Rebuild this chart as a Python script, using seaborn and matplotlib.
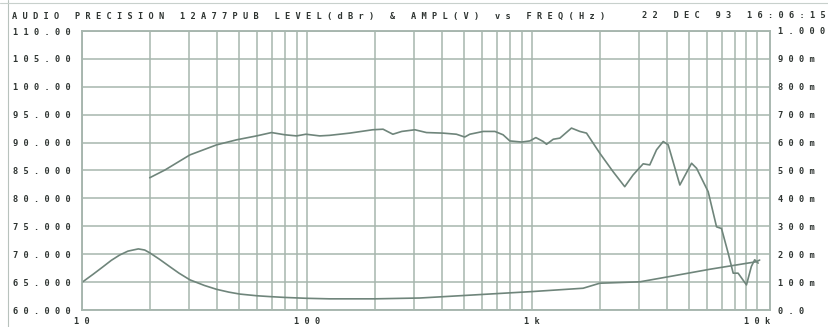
import numpy as np
import pandas as pd
import seaborn as sns
import matplotlib.pyplot as plt
from matplotlib.ticker import FixedLocator, NullFormatter, LogLocator
from matplotlib.lines import Line2D

# level (dBr) curve, left axis
level_freq = [20, 23.4, 30.2, 39.7, 48.7, 59.7, 69.6, 79.8, 89.9, 99, 114, 126, 155, 196, 218,
              241, 264, 302, 340, 402, 462, 503, 530, 608, 685, 745, 798, 900, 980, 1042, 1123,
              1162, 1245, 1332, 1500, 1635, 1750, 2005, 2296, 2588, 2818, 3126, 3344, 3583,
              3837, 4038, 4550, 5130, 5400, 6080, 6625, 6970, 7460, 7855, 8260, 9000, 9460,
              9790, 10140]
level_dbr = [83.7, 85.1, 87.8, 89.6, 90.5, 91.2, 91.8, 91.4, 91.2, 91.5, 91.2, 91.3, 91.7, 92.3, 92.4,
             91.5, 92.0, 92.3, 91.8, 91.7, 91.5, 91.0, 91.5, 92.0, 92.0, 91.4, 90.3, 90.1, 90.3, 90.9, 90.2,
             89.7, 90.6, 90.8, 92.6, 92.0, 91.7, 88.1, 84.8, 82.1, 84.2, 86.2, 86.0, 88.7,
             90.2, 89.6, 82.4, 86.3, 85.4, 81.2, 74.9, 74.6, 70.2, 66.6, 66.6, 64.5, 67.8,
             69.0, 68.4]

# amplitude (V) curve, right axis
ampl_freq = [10, 11.2, 12.4, 13.5, 14.7, 16, 17.8, 19, 20, 22, 24.6, 27, 30.2, 35, 39.7, 45,
             50.4, 60, 68.5, 80, 99, 126, 200, 318, 500, 1000, 1690, 2005, 3020, 4100, 6180,
             9960, 10300]
ampl_volts = [0.099, 0.128, 0.155, 0.178, 0.197, 0.211, 0.219, 0.215, 0.205, 0.183, 0.155, 0.132,
              0.108, 0.088, 0.074, 0.064, 0.057, 0.051, 0.048, 0.045, 0.042, 0.040,
              0.040, 0.043, 0.052, 0.066, 0.078, 0.096, 0.101, 0.120, 0.146, 0.173, 0.179]

level_ticks = [60, 65, 70, 75, 80, 85, 90, 95, 100, 105, 110]
level_labels = ["60.000", "65.000", "70.000", "75.000", "80.000", "85.000", "90.000",
                "95.000", "100.00", "105.00", "110.00"]
ampl_ticks = [0.0, 0.1, 0.2, 0.3, 0.4, 0.5, 0.6, 0.7, 0.8, 0.9, 1.0]
ampl_labels = ["0.0", "100m", "200m", "300m", "400m", "500m", "600m", "700m", "800m",
               "900m", "1.000"]
freq_ticks = [10, 100, 1000, 10000]
freq_labels = ["10", "100", "1k", "10k"]

title_left = "AUDIO PRECISION 12A77PUB LEVEL(dBr) & AMPL(V) vs FREQ(Hz)"
title_right = "22 DEC 93 16:06:15"


def spaced(s):
    return " ".join(s)


sns.set_style("white")
plt.rcParams['font.family'] = ['DejaVu Sans Mono', 'DejaVu Sans']

grid_c = '#a7b6ae'
line_c = '#6f857b'
text_c = '#2e3431'
fs = 6.2

fig = plt.figure(figsize=(8.29, 3.27), dpi=100)
ax = fig.add_axes([82 / 829, 17 / 327, 688 / 829, 279 / 327])

df_level = pd.DataFrame({'freq': level_freq, 'dbr': level_dbr})
df_ampl = pd.DataFrame({'freq': ampl_freq, 'volts': ampl_volts})

sns.lineplot(data=df_level, x='freq', y='dbr', ax=ax, color=line_c, linewidth=1.2)
ax.set_xscale('log')
ax.set_xlim(10, 11450)
ax.set_ylim(60, 110)

ax2 = ax.twinx()
sns.lineplot(data=df_ampl, x='freq', y='volts', ax=ax2, color=line_c, linewidth=1.2)
ax2.set_ylim(0, 1.0)
ax2.set_xlim(10, 11450)

# grid
ax.xaxis.set_major_locator(FixedLocator(freq_ticks))
ax.xaxis.set_minor_locator(LogLocator(base=10, subs=range(2, 10)))
ax.xaxis.set_minor_formatter(NullFormatter())
ax.set_xticklabels([spaced(s) for s in freq_labels])
ax.set_yticks(level_ticks)
ax.set_yticklabels([spaced(s) for s in level_labels])
ax2.set_yticks(ampl_ticks)
ax2.set_yticklabels([spaced(s) for s in ampl_labels])

ax.grid(True, which='both', axis='x', color=grid_c, linewidth=1.1)
ax.grid(True, which='major', axis='y', color=grid_c, linewidth=1.1)
ax2.grid(False)
ax.set_axisbelow(True)

ax.set_xlabel('')
ax.set_ylabel('')
ax2.set_xlabel('')
ax2.set_ylabel('')

ax.tick_params(axis='both', which='both', length=0, labelsize=fs, colors=text_c)
ax.tick_params(axis='y', pad=8)
ax.tick_params(axis='x', pad=5)
ax2.tick_params(axis='y', length=0, labelsize=fs, colors=text_c, pad=6)
for lab in ax.get_yticklabels():
    lab.set_fontweight('bold')
for lab in ax2.get_yticklabels():
    lab.set_fontweight('bold')
for lab in ax.get_xticklabels():
    lab.set_fontweight('bold')

for a in (ax, ax2):
    for sp in a.spines.values():
        sp.set_color(grid_c)
        sp.set_linewidth(1.1)

fig.text(12 / 829, 1 - 16 / 327, spaced(title_left),
         fontsize=fs, fontweight='bold', color=text_c, va='center', ha='left')
fig.text(826 / 829, 1 - 16 / 327, spaced(title_right), fontsize=fs, fontweight='bold',
         color=text_c, va='center', ha='right')

# scanned paper edges
fig.add_artist(Line2D([8 / 829, 8 / 829], [0, 1], color='#b8c2bd', linewidth=0.8))
fig.add_artist(Line2D([0, 1], [1 - 3 / 327, 1 - 3 / 327], color='#c8d0cc', linewidth=0.8))

fig.savefig('out.png', dpi=100)
